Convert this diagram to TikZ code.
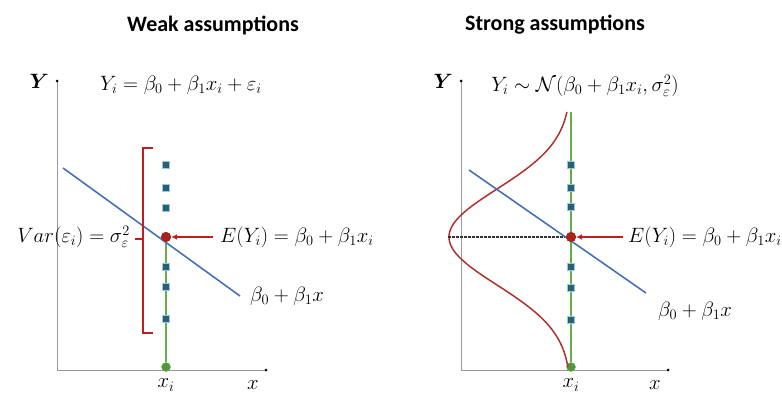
\documentclass[tikz,border=0pt]{standalone}
\usepackage{amsmath, amssymb}
\usepackage{bm}
\usepackage{fontspec}
\newfontfamily\titlefont{Carlito}
\usepackage{tikz}
\usetikzlibrary{arrows.meta}
\definecolor{regline}{RGB}{68, 114, 180}
\definecolor{errred}{RGB}{192, 30, 30}
\definecolor{dotred}{RGB}{170, 35, 25}
\definecolor{curvered}{RGB}{175, 50, 45}
\definecolor{xgreen}{RGB}{100, 175, 75}
\definecolor{obsfill}{RGB}{45, 95, 115}
\definecolor{obsedge}{RGB}{150, 200, 230}
\definecolor{axisgray}{gray}{0.6}
\begin{document}
\begin{tikzpicture}[x=1pt, y=-1pt,
		title/.style={font=\titlefont\bfseries\fontsize{22}{26}\selectfont},
		eq/.style={font=\fontsize{20}{24}\selectfont, inner sep=1pt},
		axis/.style={axisgray, line width=0.9pt},
		obs/.style={draw=obsedge, fill=obsfill, line width=1pt, minimum size=7.5pt, inner sep=0pt},
		mean/.style={circle, fill=dotred, minimum size=10pt, inner sep=0pt},
		base/.style={circle, fill=xgreen!85!black, draw=xgreen, minimum size=9pt, inner sep=0pt}]
			\useasboundingbox (0,0) rectangle (782,396);
			\def\xl{166}
			\def\xr{571}
			\def\ym{237}
			
			% Weak assumptions
			\node[title] (tw) at (213,25) {Weak assumptions};
			\coordinate (yl) at (57,81);
			\coordinate (ol) at (57,370);
			\coordinate (xl) at (266,370);
			\draw[axis] (yl) -- (ol) -- (xl);
			\fill (yl) circle (1.5);
			\fill (xl) circle (1.5);
			\node[eq, left=7pt] (Yl) at (yl) {$\bm{Y}$};
			\node[eq] (xil) at (\xl,385) {$x_i$};
			\node[eq] (xal) at (253,385) {$x$};
			\node[eq] (eql) at (181,85) {$Y_i = \beta_0 + \beta_1 x_i + \varepsilon_i$};
			
			\node[base] (gl) at (\xl,367) {};
			\node[mean] (ml) at (\xl,\ym) {};
			\draw[xgreen, line width=1.6pt] (ml) -- (gl);
			\coordinate (bl1) at (63,168);
			\coordinate (bl2) at (240,296);
			\draw[regline, line width=1.6pt] (bl1) -- (bl2);
			\foreach \y [count=\i] in {165,188,208,267,287,319}
				\node[obs] (ol-\i) at (\xl,\y) {};
			\node[mean] at (ml) {};
			
			% error bracket
			\coordinate (ba) at (153,148);
			\coordinate (bb) at (153,333);
			\draw[errred, line width=1.4pt] (ba) -- (143,148) -- (143,333) -- (bb);
			\draw[errred, line width=1.4pt] (143,239) -- (135,239);
			\node[eq, anchor=east] (varl) at (131,237) {$Var(\varepsilon_i) = \sigma_{\varepsilon}^2$};
			
			\coordinate (al) at (213,\ym);
			\draw[errred, line width=1.4pt, -{Latex[length=6pt,width=6pt]}] (al) -- (ml);
			\node[eq, anchor=west] (el) at (219,\ym) {$E(Y_i) = \beta_0 + \beta_1 x_i$};
			\node[eq, anchor=west] (rl) at (249,296) {$\beta_0 + \beta_1 x$};
			
			% Strong assumptions
			\node[title] (ts) at (555,25) {Strong assumptions};
			\coordinate (yr) at (461,81);
			\coordinate (or) at (461,370);
			\coordinate (xr) at (668,370);
			\draw[axis] (yr) -- (or) -- (xr);
			\fill (yr) circle (1.5);
			\fill (xr) circle (1.5);
			\node[eq, left=7pt] (Yr) at (yr) {$\bm{Y}$};
			\node[eq] (xir) at (\xr,385) {$x_i$};
			\node[eq] (xar) at (655,385) {$x$};
			\node[eq] (eqr) at (585,86) {$Y_i \sim \mathcal{N}(\beta_0 + \beta_1 x_i, \sigma_{\varepsilon}^2)$};
			
			\node[base] (gr) at (\xr,367) {};
			\node[mean] (mr) at (\xr,\ym) {};
			\coordinate (gtop) at (\xr,112);
			\draw[xgreen, line width=1.6pt] (gtop) -- (gr);
			\draw[curvered, line width=1.5pt] plot[domain=112:367, samples=90]
				({\xr-122*exp(-0.5*((\x-\ym)/48)^2)}, \x);
			\coordinate (dr) at (448,\ym);
			\draw[black!80, line width=1.3pt, dashed, dash pattern=on 2.5pt off 1.5pt] (dr) -- (mr);
			\coordinate (br1) at (469,170);
			\coordinate (br2) at (646,293);
			\draw[regline, line width=1.6pt] (br1) -- (br2);
			\foreach \y [count=\i] in {165,188,207,267,288,320}
				\node[obs] (or-\i) at (\xr,\y) {};
			\node[mean] at (mr) {};
			
			\coordinate (ar) at (623,\ym);
			\draw[errred, line width=1.4pt, -{Latex[length=6pt,width=6pt]}] (ar) -- (mr);
			\node[eq, anchor=west] (er) at (627,\ym) {$E(Y_i) = \beta_0 + \beta_1 x_i$};
			\node[eq, anchor=west] (rr) at (657,311) {$\beta_0 + \beta_1 x$};
			
		\end{tikzpicture}
\end{document}
